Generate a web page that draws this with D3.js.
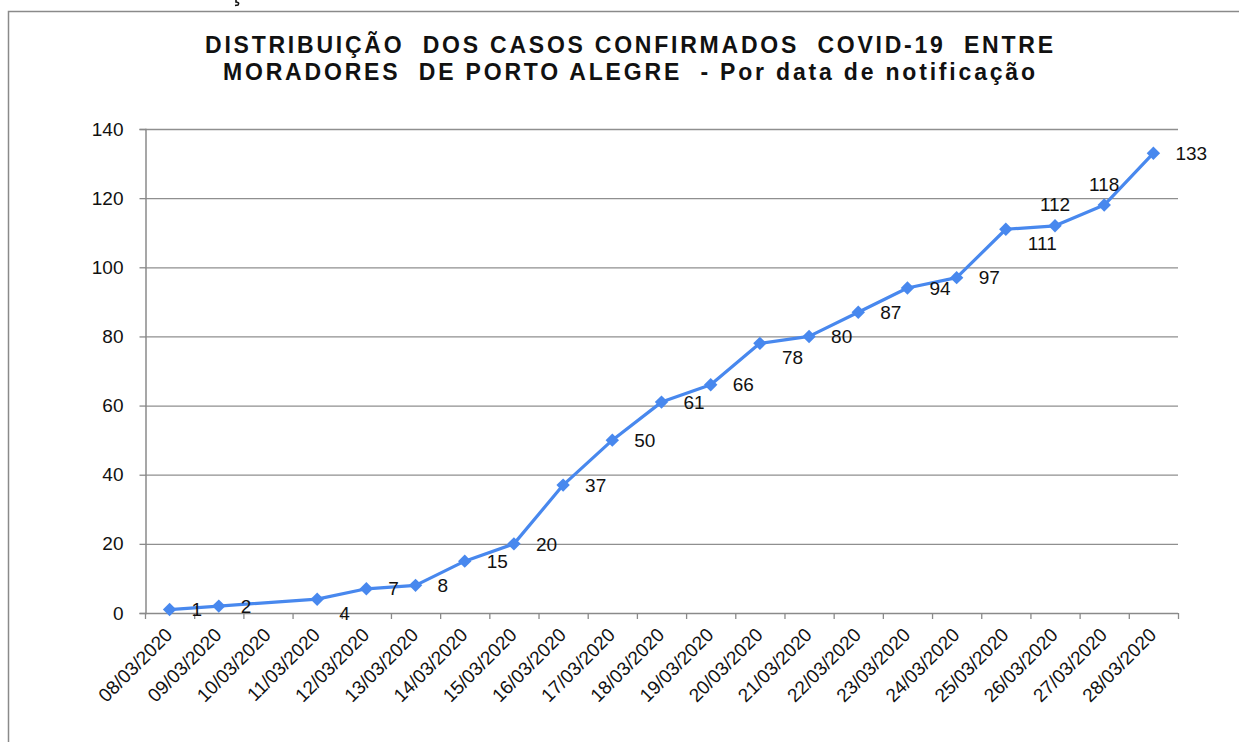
<!DOCTYPE html>
<html>
<head>
<meta charset="utf-8">
<script src="https://cdn.jsdelivr.net/npm/d3@7"></script>
<style>
  html, body { margin: 0; padding: 0; background: #ffffff; }
  svg { display: block; }
  text { font-family: Arial, "Liberation Sans", sans-serif; }
</style>
</head>
<body>
<svg id="chart" width="1239" height="742"></svg>
<script>
// ---- data ----
const categories = ["08/03/2020","09/03/2020","10/03/2020","11/03/2020","12/03/2020","13/03/2020","14/03/2020",
  "15/03/2020","16/03/2020","17/03/2020","18/03/2020","19/03/2020","20/03/2020","21/03/2020","22/03/2020",
  "23/03/2020","24/03/2020","25/03/2020","26/03/2020","27/03/2020","28/03/2020"];
const cases = [1, 2, null, 4, 7, 8, 15, 20, 37, 50, 61, 66, 78, 80, 87, 94, 97, 111, 112, 118, 133];
const labelPlacement = ["right","right",null,"below","right","right","right","right","right","right","right",
  "right","below","right","right","right","right","below","above","above","right"];
const yTicks = [0, 20, 40, 60, 80, 100, 120, 140];
const titleLines = ["DISTRIBUIÇÃO  DOS CASOS CONFIRMADOS  COVID-19  ENTRE",
                    "MORADORES  DE PORTO ALEGRE  - Por data de notificação"];

(function () {
// ---- layout ----
const svg = d3.select("#chart");
const mLeft = 145, mRight = 1178, mTop = 129, mBottom = 613;
const lineColor = "#4888EE";

// outer frame
svg.append("rect").attr("x", 8.5).attr("y", 11.5).attr("width", 1300).attr("height", 800)
  .attr("fill", "none").attr("stroke", "#8a8a8a").attr("stroke-width", 1.5);
// fragment of a glyph cut by the top edge
svg.append("path").attr("d", "M236,0 L236,2 Q240,2.5 238,5 L235,5.5")
  .attr("fill", "none").attr("stroke", "#111").attr("stroke-width", 1.6);

// title
const titleWidths = [848, 812];
svg.selectAll("text.title").data(titleLines).enter().append("text")
  .attr("class", "title")
  .attr("x", 629).attr("y", (d, i) => 53 + i * 27)
  .attr("text-anchor", "middle")
  .attr("font-size", 23).attr("font-weight", "bold")
  .attr("fill", "#111")
  .attr("textLength", (d, i) => titleWidths[i])
  .attr("lengthAdjust", "spacing")
  .style("white-space", "pre")
  .text(d => d);

const x = d3.scaleBand().domain(categories).range([mLeft, mRight]).padding(0);
const y = d3.scaleLinear().domain([0, 140]).range([mBottom, mTop]);

// gridlines
svg.append("g").selectAll("line").data(yTicks.filter(t => t > 0)).enter().append("line")
  .attr("x1", mLeft).attr("x2", mRight)
  .attr("y1", d => y(d) + 0.5).attr("y2", d => y(d) + 0.5)
  .attr("stroke", "#8f8f8f").attr("stroke-width", 1.3);

// y axis
const yAxis = svg.append("g").attr("transform", `translate(${mLeft + 0.5},0)`)
  .call(d3.axisLeft(y).tickValues(yTicks).tickSize(6).tickPadding(16).tickFormat(d3.format("d")));
yAxis.select(".domain").attr("stroke", "#8a8a8a").attr("stroke-width", 1.5);
yAxis.selectAll(".tick line").attr("stroke", "#8a8a8a").attr("stroke-width", 1.3);
yAxis.selectAll(".tick text").attr("font-size", 19).attr("fill", "#111")
  .attr("font-family", "Arial, 'Liberation Sans', sans-serif");

// x axis line
svg.append("line").attr("x1", mLeft).attr("x2", mRight)
  .attr("y1", mBottom + 0.5).attr("y2", mBottom + 0.5)
  .attr("stroke", "#8a8a8a").attr("stroke-width", 1.5);
// boundary ticks
const boundaries = categories.map(c => x(c)).concat([x(categories[categories.length - 1]) + x.bandwidth()]);
svg.append("g").selectAll("line").data(boundaries).enter().append("line")
  .attr("x1", d => d + 0.5).attr("x2", d => d + 0.5)
  .attr("y1", mBottom).attr("y2", mBottom + 6)
  .attr("stroke", "#8a8a8a").attr("stroke-width", 1.3);
// x labels
svg.append("g").selectAll("text").data(categories).enter().append("text")
  .attr("transform", d => `translate(${x(d) + x.bandwidth() / 2 + 4},${636}) rotate(-45)`)
  .attr("text-anchor", "end")
  .attr("font-size", 19).attr("fill", "#111")
  .text(d => d);

// series
const pts = categories.map((c, i) => ({ c, v: cases[i], pos: labelPlacement[i] })).filter(d => d.v !== null);
const line = d3.line().x(d => x(d.c) + x.bandwidth() / 2).y(d => y(d.v));
svg.append("path").datum(pts).attr("d", line)
  .attr("fill", "none").attr("stroke", lineColor).attr("stroke-width", 3.2).attr("stroke-linejoin", "round");

const diamond = d3.symbol().type(d3.symbolSquare).size(90);
svg.append("g").selectAll("path").data(pts).enter().append("path")
  .attr("d", diamond)
  .attr("transform", d => `translate(${x(d.c) + x.bandwidth() / 2},${y(d.v)}) rotate(45)`)
  .attr("fill", lineColor);

// data labels
svg.append("g").selectAll("text").data(pts).enter().append("text")
  .attr("x", d => {
    const cx = x(d.c) + x.bandwidth() / 2;
    return d.pos === "above" ? cx : cx + 22;
  })
  .attr("y", d => {
    const cy = y(d.v);
    if (d.pos === "above") return cy - 21;
    if (d.pos === "below") return cy + 14;
    return cy;
  })
  .attr("dy", "0.35em")
  .attr("text-anchor", d => d.pos === "above" ? "middle" : "start")
  .attr("font-size", 19).attr("fill", "#111")
  .text(d => d.v);
})();
</script>
</body>
</html>
